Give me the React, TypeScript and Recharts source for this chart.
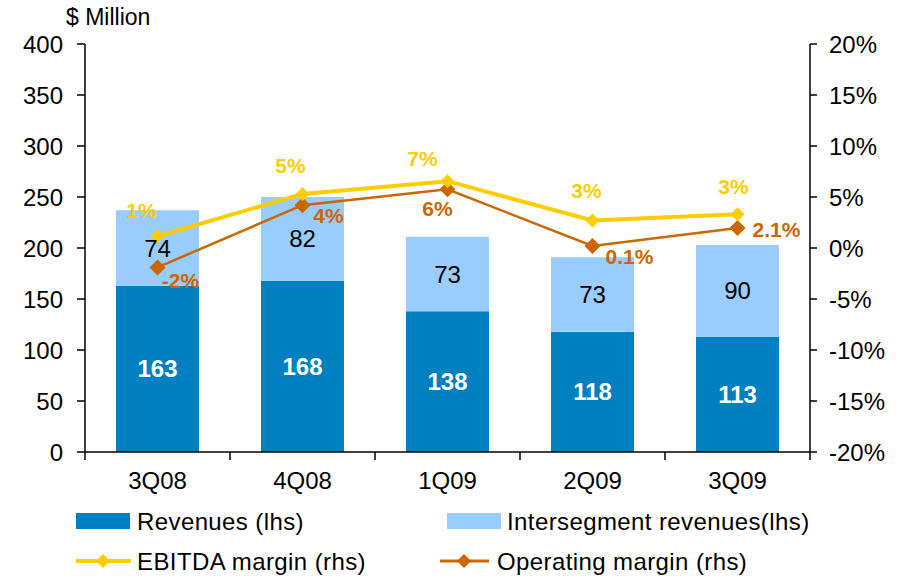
import React from "react";
import {
  ComposedChart,
  Bar,
  Line,
  XAxis,
  YAxis,
  Legend,
  LabelList,
} from "recharts";

const quarters = ["3Q08", "4Q08", "1Q09", "2Q09", "3Q09"];
const revenues = [163, 168, 138, 118, 113];
const intersegment = [74, 82, 73, 73, 90];
const ebitdaMargin = [1.15, 5.3, 6.55, 2.7, 3.3];
const operatingMargin = [-1.9, 4.2, 5.75, 0.2, 1.95];
const ebitdaLabels = ["1%", "5%", "7%", "3%", "3%"];
const operatingLabels = ["-2%", "4%", "6%", "0.1%", "2.1%"];
const leftTicks = [0, 50, 100, 150, 200, 250, 300, 350, 400];
const rightTicks = [-20, -15, -10, -5, 0, 5, 10, 15, 20];

// where each margin label sits relative to its point (dx, dy)
const ebitdaShift = [[-16, -26], [-12, -28], [-25, -23], [-6, -30], [-4, -28]];
const operatingShift = [[23, 13], [26, 10], [-10, 19], [37, 11], [39, 1]];

const W = 908;
const H = 576;
const LEFT_W = 85;
const RIGHT_W = 98;
const TOP = 44;
const PLOT_BOTTOM = 452;
const X_AXIS_H = 40;
const PLOT_W = W - LEFT_W - RIGHT_W;
const FONT = "'Liberation Sans', Arial, sans-serif";

const DARK = "#0080C0";
const LIGHT = "#99CCFF";
const YELLOW = "#FFCC00";
const ORANGE = "#CC6600";

const data = quarters.map((q, i) => ({
  quarter: q,
  revenues: revenues[i],
  intersegment: intersegment[i],
  ebitda: ebitdaMargin[i],
  operating: operatingMargin[i],
}));

function diamond(cx: number, cy: number, r: number) {
  return `${cx},${cy - r} ${cx + r},${cy} ${cx},${cy + r} ${cx - r},${cy}`;
}

const makeDot = (color: string, r: number) => (props: any) => {
  const { cx, cy, index } = props;
  if (cx == null || cy == null) return <g key={index} />;
  return <polygon key={index} points={diamond(cx, cy, r)} fill={color} />;
};

const makeMarginLabel =
  (labels: string[], shift: number[][], color: string) => (props: any) => {
    const { x, y, index } = props;
    return (
      <text
        x={x + shift[index][0]}
        y={y + shift[index][1]}
        textAnchor="middle"
        dominantBaseline="central"
        fill={color}
        fontSize={21}
        fontWeight="bold"
        fontFamily={FONT}
      >
        {labels[index]}
      </text>
    );
  };

function QuarterTick(props: any) {
  const { x, y, payload, index } = props;
  const band = PLOT_W / quarters.length;
  const left = x - band / 2;
  const right = x + band / 2;
  return (
    <g>
      <line x1={left} x2={left} y1={y} y2={y + 8} stroke="#000" strokeWidth={1.5} />
      {index === quarters.length - 1 && (
        <line x1={right} x2={right} y1={y} y2={y + 8} stroke="#000" strokeWidth={1.5} />
      )}
      <text
        x={x}
        y={y + 20}
        dy="0.71em"
        textAnchor="middle"
        fill="#000"
        fontSize={24}
        fontFamily={FONT}
      >
        {payload.value}
      </text>
    </g>
  );
}

function MillionLabel() {
  return (
    <text
      x={66}
      y={17}
      dominantBaseline="central"
      fill="#000"
      fontSize={23}
      fontFamily={FONT}
    >
      $ Million
    </text>
  );
}

function LegendBox() {
  const t = { fontSize: 24, fontFamily: FONT, fill: "#000", letterSpacing: 0.4 };
  return (
    <svg width={W} height={76}>
      <rect x={76} y={13} width={54} height={16} fill={DARK} />
      <text x={137} y={21} dominantBaseline="central" {...t}>
        Revenues (lhs)
      </text>
      <rect x={447} y={13} width={54} height={16} fill={LIGHT} />
      <text x={507} y={21} dominantBaseline="central" {...t}>
        Intersegment revenues(lhs)
      </text>
      <line x1={76} x2={131} y1={61} y2={61} stroke={YELLOW} strokeWidth={4} />
      <polygon points={diamond(103, 61, 7)} fill={YELLOW} />
      <text x={137} y={61} dominantBaseline="central" {...t}>
        EBITDA margin (rhs)
      </text>
      <line x1={440} x2={489} y1={61} y2={61} stroke={ORANGE} strokeWidth={3} />
      <polygon points={diamond(464, 61, 7)} fill={ORANGE} />
      <text x={497} y={61} dominantBaseline="central" {...t}>
        Operating margin (rhs)
      </text>
    </svg>
  );
}

export default function App() {
  const tickStyle = { fill: "#000", fontSize: 24, fontFamily: FONT };
  return (
    <div style={{ position: "absolute", left: 0, top: 0, width: W, height: H, background: "#fff" }}>
      <ComposedChart
        width={W}
        height={H}
        data={data}
        margin={{ top: TOP, right: 0, bottom: H - PLOT_BOTTOM - X_AXIS_H, left: 0 }}
      >
        <XAxis
          dataKey="quarter"
          height={X_AXIS_H}
          tickLine={false}
          tickSize={0}
          tickMargin={0}
          interval={0}
          axisLine={{ stroke: "#000", strokeWidth: 1.5 }}
          tick={<QuarterTick />}
        />
        <YAxis
          yAxisId="left"
          width={LEFT_W}
          domain={[0, 400]}
          ticks={leftTicks}
          interval={0}
          tickSize={8}
          tickMargin={14}
          tick={tickStyle}
          axisLine={{ stroke: "#000", strokeWidth: 1.5 }}
          tickLine={{ stroke: "#000", strokeWidth: 1.5 }}
          label={MillionLabel}
        />
        <YAxis
          yAxisId="right"
          orientation="right"
          width={RIGHT_W}
          domain={[-20, 20]}
          ticks={rightTicks}
          interval={0}
          tickSize={7}
          tickMargin={12}
          tickFormatter={(v: number) => `${v}%`}
          tick={tickStyle}
          axisLine={{ stroke: "#000", strokeWidth: 1.5 }}
          tickLine={{ stroke: "#000", strokeWidth: 1.5 }}
        />
        <Bar
          yAxisId="left"
          dataKey="revenues"
          stackId="a"
          fill={DARK}
          barSize={83}
          isAnimationActive={false}
        >
          <LabelList
            dataKey="revenues"
            position="center"
            fill="#fff"
            fontSize={24}
            fontWeight="bold"
            fontFamily={FONT}
          />
        </Bar>
        <Bar
          yAxisId="left"
          dataKey="intersegment"
          stackId="a"
          fill={LIGHT}
          barSize={83}
          isAnimationActive={false}
        >
          <LabelList
            dataKey="intersegment"
            position="center"
            fill="#000"
            fontSize={24}
            fontFamily={FONT}
          />
        </Bar>
        <Line
          yAxisId="right"
          dataKey="operating"
          stroke={ORANGE}
          strokeWidth={2.5}
          dot={makeDot(ORANGE, 8)}
          activeDot={false}
          isAnimationActive={false}
        >
          <LabelList
            dataKey="operating"
            content={makeMarginLabel(operatingLabels, operatingShift, ORANGE)}
          />
        </Line>
        <Line
          yAxisId="right"
          dataKey="ebitda"
          stroke={YELLOW}
          strokeWidth={4}
          dot={makeDot(YELLOW, 7)}
          activeDot={false}
          isAnimationActive={false}
        >
          <LabelList
            dataKey="ebitda"
            content={makeMarginLabel(ebitdaLabels, ebitdaShift, YELLOW)}
          />
        </Line>
        <Legend
          layout="horizontal"
          verticalAlign="middle"
          align="center"
          wrapperStyle={{ left: 0, top: 500, width: W }}
          content={LegendBox}
        />
      </ComposedChart>
    </div>
  );
}
